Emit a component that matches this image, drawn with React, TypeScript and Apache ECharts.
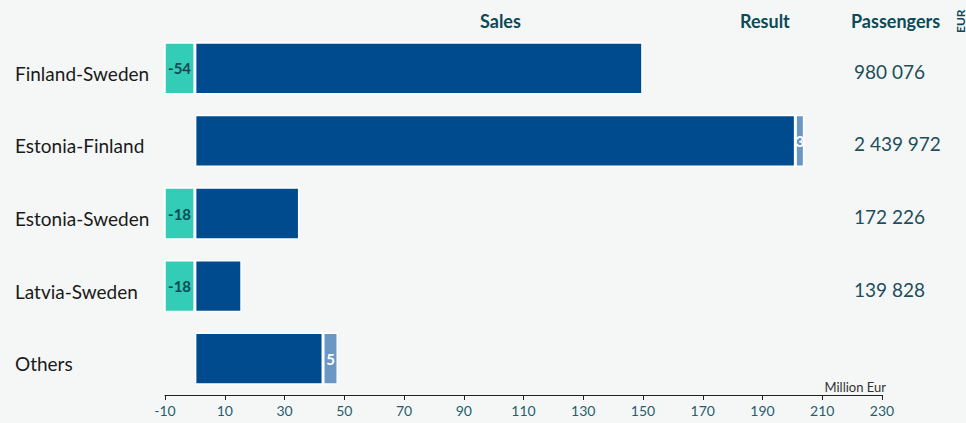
import React, { useEffect, useRef } from "react";
import * as echarts from "echarts";

const categories = ["Finland-Sweden", "Estonia-Finland", "Estonia-Sweden", "Latvia-Sweden", "Others"];
const sales = [149.9, 201, 35, 15.7, 42.9];
const result = [-54, 3, -18, -18, 5];
const passengers = ["980 076", "2 439 972", "172 226", "139 828", ""];
const headers = ["Sales", "Result", "Passengers"];

const FONT = "Lato";

export default function App() {
  const ref = useRef<HTMLDivElement>(null);
  useEffect(() => {
    if (!ref.current) return;
    const chart = echarts.init(ref.current, undefined, { renderer: "svg" });
    chart.setOption({
      animation: false,
      backgroundColor: "#f5f7f6",
      textStyle: { fontFamily: FONT },
      grid: { left: 165, right: 84, top: 32, bottom: 28 },
      xAxis: {
        type: "value",
        min: -10,
        max: 230,
        interval: 20,
        splitLine: { show: false },
        axisLine: { show: true, lineStyle: { color: "#222", width: 1 } },
        axisTick: { show: true, length: 5, lineStyle: { color: "#222" } },
        axisLabel: { color: "#265e6d", fontSize: 14, fontFamily: FONT, margin: 8 },
      },
      yAxis: [
        {
          type: "category",
          data: categories,
          inverse: true,
          axisLine: { show: false },
          axisTick: { show: false },
          axisLabel: {
            align: "left",
            verticalAlign: "top",
            lineHeight: 10,
            margin: 150,
            color: "#1a1a1a",
            fontSize: 19,
            fontFamily: FONT,
          },
        },
        {
          type: "category",
          data: passengers,
          inverse: true,
          position: "right",
          axisLine: { show: false },
          axisTick: { show: false },
          axisLabel: {
            align: "left",
            verticalAlign: "top",
            lineHeight: 6,
            margin: -28,
            color: "#1e4d5c",
            fontSize: 19,
            fontFamily: FONT,
          },
        },
      ],
      series: [
        {
          name: "Sales",
          type: "bar",
          stack: "total",
          barWidth: "72%",
          yAxisIndex: 0,
          itemStyle: { color: "#004B8D", borderColor: "#ffffff", borderWidth: 1.5 },
          data: sales,
        },
        {
          name: "Result",
          type: "bar",
          stack: "total",
          yAxisIndex: 0,
          data: result.map((v) => ({
            value: v,
            itemStyle: { color: v < 0 ? "#33CCB6" : "#6A97C4", borderColor: "#ffffff", borderWidth: 1.5 },
            label: {
              show: true,
              position: "inside",
              color: v < 0 ? "#0d4a55" : "#ffffff",
              fontWeight: "bold",
              fontSize: 15,
              fontFamily: FONT,
            },
          })),
        },
      ],
      graphic: [
        {
          type: "text",
          left: 480,
          top: 12,
          style: { text: headers[0], fill: "#0b4a59", font: `bold 18px ${FONT}` },
        },
        {
          type: "text",
          left: 740,
          top: 12,
          style: { text: headers[1], fill: "#0b4a59", font: `bold 18px ${FONT}` },
        },
        {
          type: "text",
          left: 851,
          top: 12,
          style: { text: headers[2], fill: "#0b4a59", font: `bold 18px ${FONT}` },
        },
        {
          type: "text",
          x: 966,
          y: 33,
          rotation: Math.PI / 2,
          style: { text: "EUR", fill: "#0b4a59", font: `bold 12px ${FONT}`, align: "left", verticalAlign: "bottom" },
        },
        {
          type: "text",
          right: 80,
          top: 380,
          style: { text: "Million Eur", fill: "#333333", font: `13px ${FONT}` },
        },
      ],
    });
    return () => chart.dispose();
  }, []);
  return (
    <div
      ref={ref}
      style={{ position: "fixed", left: 0, top: 0, width: 966, height: 423 }}
    />
  );
}
